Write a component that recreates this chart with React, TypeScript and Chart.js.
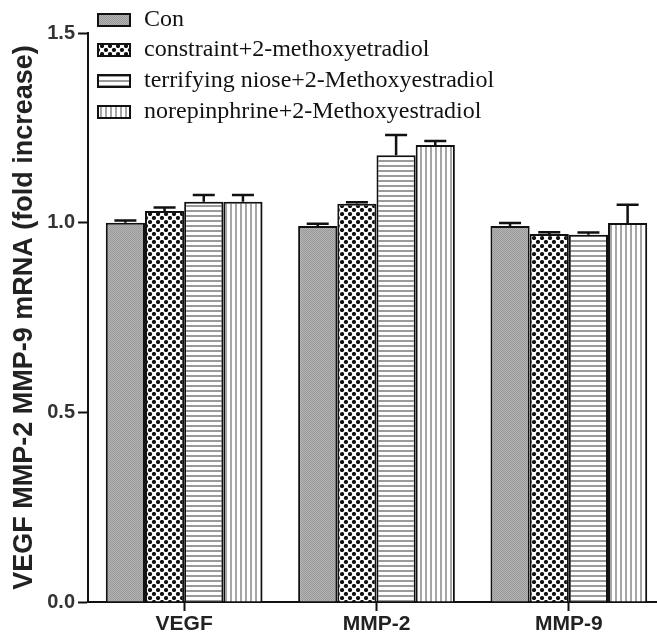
import React, { useEffect, useRef } from "react";
import { Chart, registerables } from "chart.js";

Chart.register(...registerables);

const categories = ["VEGF", "MMP-2", "MMP-9"];
const seriesLabels = [
  "Con",
  "constraint+2-methoxyetradiol",
  "terrifying niose+2-Methoxyestradiol",
  "norepinphrine+2-Methoxyestradiol",
];
const conValues = [1.0, 0.991, 0.991];
const conErrors = [0.006, 0.006, 0.008];
const constraintValues = [1.031, 1.05, 0.97];
const constraintErrors = [0.009, 0.004, 0.005];
const noiseValues = [1.055, 1.178, 0.968];
const noiseErrors = [0.018, 0.053, 0.006];
const norepiValues = [1.055, 1.205, 0.999];
const norepiErrors = [0.018, 0.01, 0.048];
const yTicks = [0, 0.5, 1.0, 1.5];
const yTitle = "VEGF MMP-2 MMP-9 mRNA (fold increase)";

function makePattern(kind: string): CanvasPattern | string {
  const c = document.createElement("canvas");
  const ctx = c.getContext("2d")!;
  if (kind === "stipple") {
    c.width = 2; c.height = 2;
    ctx.fillStyle = "#b3b3b3";
    ctx.fillRect(0, 0, 2, 2);
    ctx.fillStyle = "#9a9a9a";
    ctx.fillRect(0, 0, 1, 1);
    ctx.fillRect(1, 1, 1, 1);
  } else if (kind === "dots") {
    c.width = 8; c.height = 8;
    ctx.fillStyle = "#ffffff";
    ctx.fillRect(0, 0, 8, 8);
    ctx.fillStyle = "#111";
    for (const [x, y] of [[2, 2], [6, 6], [-2, 6], [6, -2], [10, 6], [6, 10], [2, 10], [10, 2], [-2, 2], [2, -2]]) {
      ctx.beginPath();
      ctx.arc(x, y, 2.1, 0, Math.PI * 2);
      ctx.fill();
    }
  } else if (kind === "hlines") {
    c.width = 5; c.height = 5;
    ctx.fillStyle = "#ffffff";
    ctx.fillRect(0, 0, 5, 5);
    ctx.fillStyle = "#9a9a9a";
    ctx.fillRect(0, 0, 5, 2);
  } else {
    c.width = 5; c.height = 5;
    ctx.fillStyle = "#ffffff";
    ctx.fillRect(0, 0, 5, 5);
    ctx.fillStyle = "#a5a5a5";
    ctx.fillRect(0, 0, 2, 5);
  }
  return ctx.createPattern(c, "repeat") || "#aaa";
}

export default function App() {
  const ref = useRef<HTMLCanvasElement | null>(null);
  useEffect(() => {
    if (!ref.current) return;
    const fills = [makePattern("stipple"), makePattern("dots"), makePattern("hlines"), makePattern("vlines")];
    const valueSets = [conValues, constraintValues, noiseValues, norepiValues];
    const errorSets = [conErrors, constraintErrors, noiseErrors, norepiErrors];

    const errorPlugin = {
      id: "errorBars",
      afterDatasetsDraw(chart: any) {
        const ctx = chart.ctx;
        const y = chart.scales.y;
        ctx.save();
        ctx.strokeStyle = "#111";
        ctx.lineWidth = 2.5;
        chart.data.datasets.forEach((ds: any, di: number) => {
          const meta = chart.getDatasetMeta(di);
          meta.data.forEach((bar: any, i: number) => {
            const top = y.getPixelForValue(valueSets[di][i] + errorSets[di][i]);
            ctx.beginPath();
            ctx.moveTo(bar.x, bar.y);
            ctx.lineTo(bar.x, top);
            ctx.moveTo(bar.x - 11, top);
            ctx.lineTo(bar.x + 11, top);
            ctx.stroke();
          });
        });
        ctx.restore();
      },
    };

    const legendPlugin = {
      id: "customLegend",
      afterDraw(chart: any) {
        const ctx = chart.ctx;
        ctx.save();
        const rows = [20, 50, 81, 112];
        chart.data.datasets.forEach((ds: any, di: number) => {
          const cy = rows[di];
          ctx.fillStyle = ds.backgroundColor;
          ctx.fillRect(98, cy - 6, 32, 12);
          ctx.strokeStyle = "#111";
          ctx.lineWidth = 2;
          ctx.strokeRect(98, cy - 6, 32, 12);
          ctx.fillStyle = "#111";
          ctx.font = "24px 'Liberation Serif'";
          ctx.textBaseline = "middle";
          ctx.textAlign = "left";
          ctx.fillText(ds.label, 144, cy);
        });
        ctx.restore();
      },
    };

    const chart = new Chart(ref.current, {
      type: "bar",
      data: {
        labels: categories,
        datasets: valueSets.map((vals, i) => ({
          label: seriesLabels[i],
          data: vals,
          backgroundColor: fills[i] as any,
          borderColor: "#111",
          borderWidth: 2,
          borderSkipped: "bottom",
          categoryPercentage: 0.815,
          barPercentage: 1.0,
        })),
      },
      options: {
        animation: false,
        responsive: false,
        devicePixelRatio: 1,
        layout: { padding: { top: 33, right: 5, left: 0, bottom: 0 } },
        plugins: { legend: { display: false }, tooltip: { enabled: false } },
        scales: {
          x: {
            offset: true,
            grid: { display: true, drawOnChartArea: false, offset: false, tickLength: 9, tickColor: "#111", tickWidth: 2 },
            border: { color: "#111", width: 2 },
            ticks: { color: "#222", font: { family: "'Liberation Sans'", weight: "bold", size: 21 }, padding: 1 },
            afterFit(scale: any) { scale.height = 38; },
          },
          y: {
            min: 0,
            max: 1.5,
            afterBuildTicks(scale: any) { scale.ticks = yTicks.map((v) => ({ value: v })); },
            grid: { display: true, drawOnChartArea: false, tickLength: 10, tickColor: "#111", tickWidth: 2 },
            border: { color: "#111", width: 2 },
            ticks: {
              color: "#333",
              font: { family: "'Liberation Sans'", weight: "bold", size: 20 },
              padding: 3,
              callback: (v: any) => Number(v).toFixed(1),
            },
            title: {
              display: true,
              text: yTitle,
              color: "#222",
              font: { family: "'Liberation Sans'", weight: "bold", size: 27 },
              padding: { top: 8, bottom: 0 },
            },
            afterFit(scale: any) { scale.width = 88; },
          },
        },
      },
      plugins: [errorPlugin, legendPlugin],
    });
    return () => chart.destroy();
  }, []);
  return (
    <div style={{ position: "fixed", left: 0, top: 0, width: 657, height: 640, overflow: "hidden", background: "#fff" }}>
      <canvas ref={ref} width={670} height={640} style={{ display: "block", width: 670, height: 640 }} />
    </div>
  );
}
